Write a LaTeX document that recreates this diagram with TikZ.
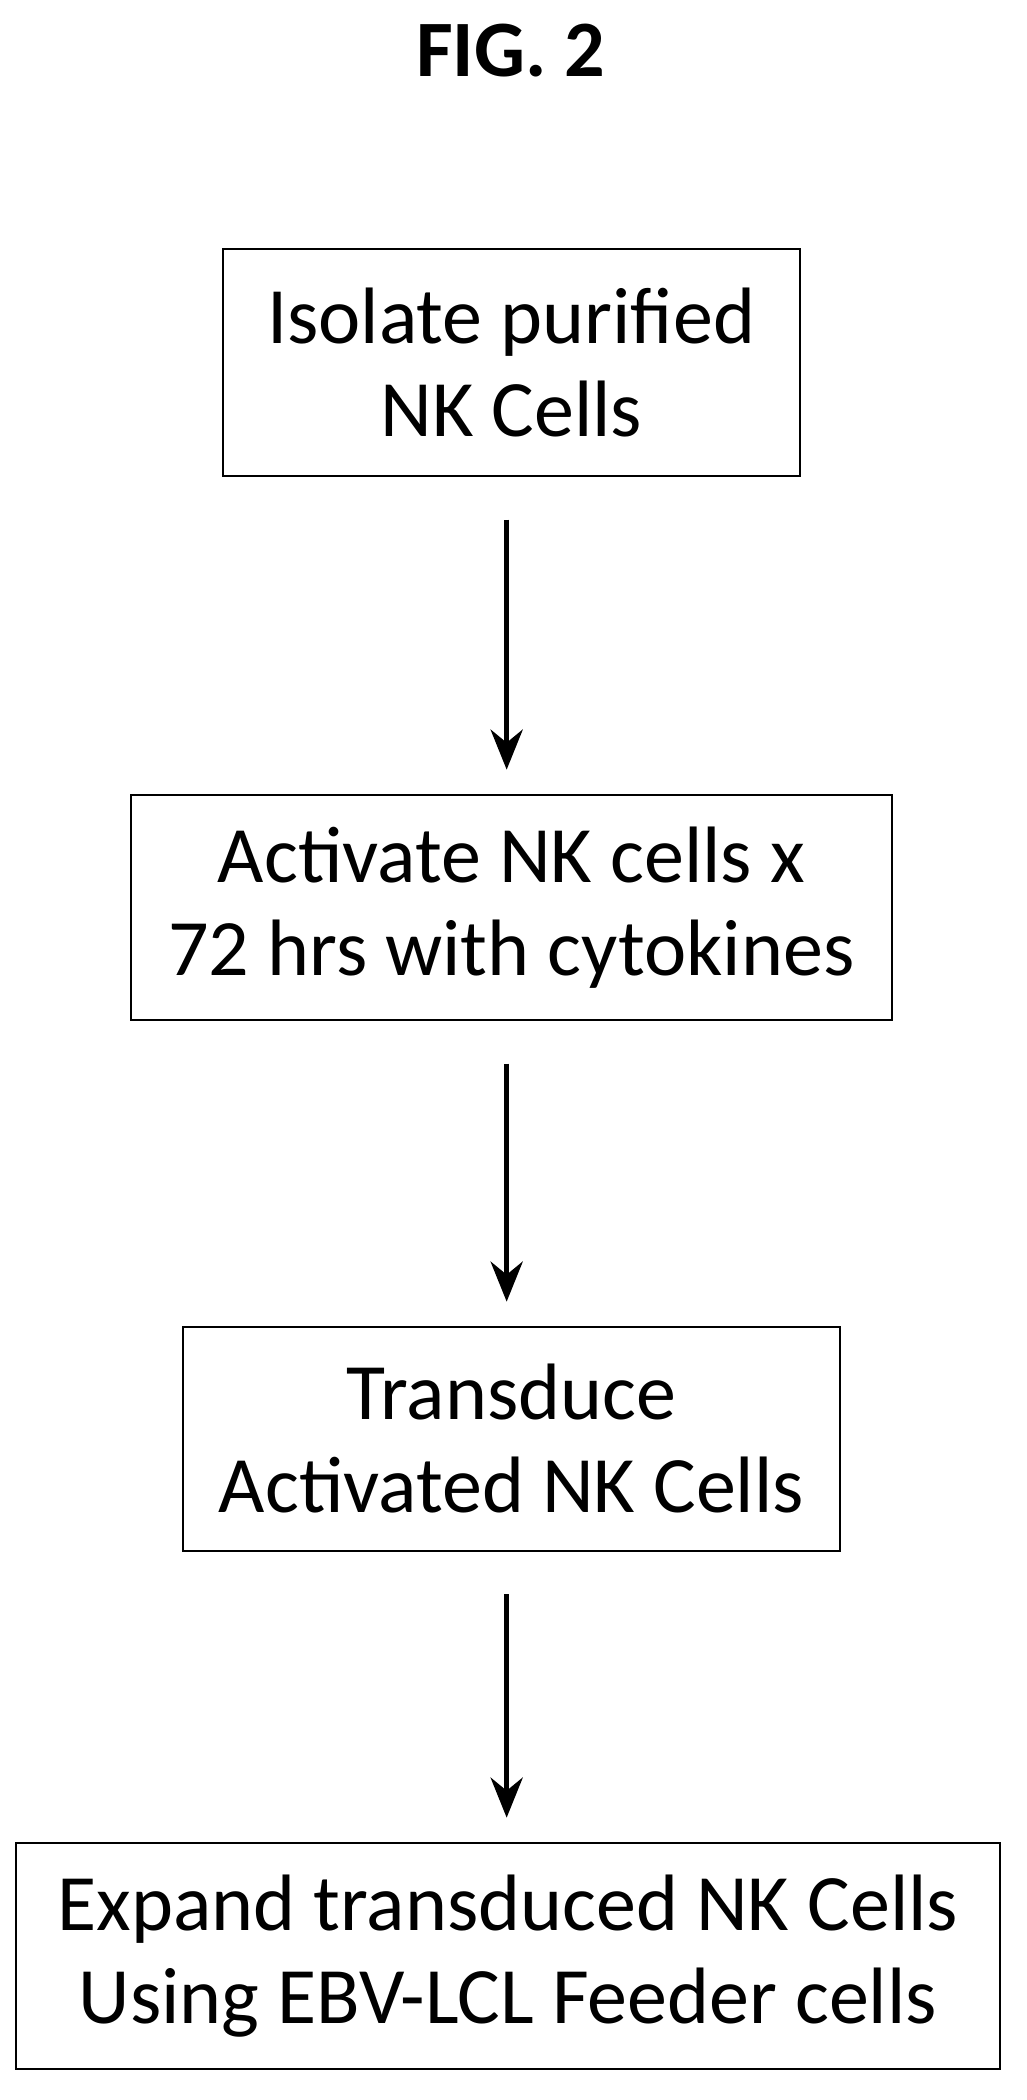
\documentclass[tikz,border=0pt]{standalone}
\usepackage{fontspec}
\setmainfont{Carlito}
\usetikzlibrary{arrows.meta}
\begin{document}
\begin{tikzpicture}[x=1pt,y=-1pt]
\tikzset{stepbox/.style={draw,line width=1.5pt,align=center,inner sep=0pt,
  font=\fontsize{60}{70}\selectfont},
  flow/.style={-{Stealth[length=30pt,width=24pt]},line width=4pt,
  shorten <=32pt,shorten >=18pt}}
\useasboundingbox (0,0) rectangle (770,1575);
\node[font=\bfseries\fontsize{60}{66}\selectfont] (title) at (383,38) {FIG. 2};
\node[stepbox,minimum width=433pt,minimum height=170pt] (isolate) at (383.5,272) {Isolate purified\\NK Cells};
\node[stepbox,minimum width=571pt,minimum height=169pt] (activate) at (383.5,680.5) {Activate NK cells x\\72 hrs with cytokines};
\node[stepbox,minimum width=493pt,minimum height=168pt] (transduce) at (383.5,1079) {Transduce\\Activated NK Cells};
\node[stepbox,minimum width=738pt,minimum height=170pt] (expand) at (381,1467) {Expand transduced NK Cells\\Using EBV-LCL Feeder cells};
\draw[flow] ([xshift=-3.5pt]isolate.south) -- ([xshift=-3.5pt]isolate.south |- activate.north);
\draw[flow] ([xshift=-3.5pt]activate.south) -- ([xshift=-3.5pt]activate.south |- transduce.north);
\draw[flow] ([xshift=-3.5pt]transduce.south) -- ([xshift=-3.5pt]transduce.south |- expand.north);
\end{tikzpicture}
\end{document}
